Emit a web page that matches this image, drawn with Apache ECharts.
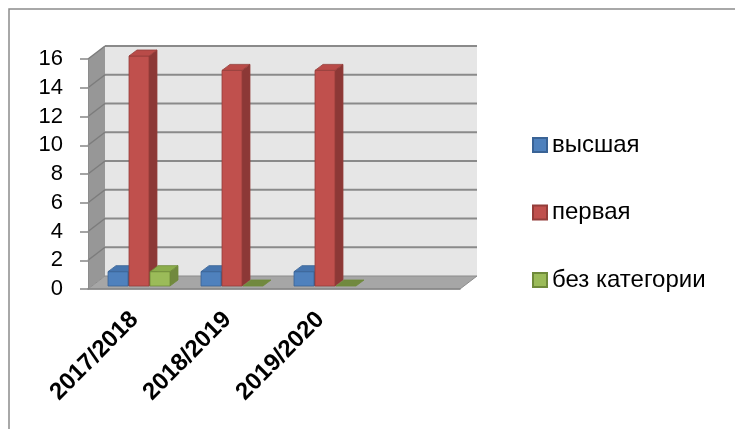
<!DOCTYPE html>
<html>
<head>
<meta charset="utf-8">
<script src="https://cdn.jsdelivr.net/npm/echarts@6/dist/echarts.min.js"></script>
<style>
html, body { margin: 0; padding: 0; background: #fff; }
#main { width: 735px; height: 429px; }
</style>
</head>
<body>
<div id="main"></div>
<script>
// data
var categories = ['2017/2018', '2018/2019', '2019/2020', ''];
var vysshaya = [1, 1, 1];
var pervaya = [16, 15, 15];
var bezKategorii = [1, 0, 0];
var yTicks = [0, 2, 4, 6, 8, 10, 12, 14, 16];
var seriesNames = ['высшая', 'первая', 'без категории'];

var FONT = 'Liberation Sans';
var WALL_DEPTH = [17, -13];   // left wall / floor depth
var BAR_SHIFT = [4.5, -3];    // bars stand in the middle of the depth
var BAR_DEPTH = [8, -6];

var palette = [
  { front: '#4f81bd', top: '#4675ae', side: '#385d8a', edge: '#3a6396' },
  { front: '#c0504d', top: '#b94b48', side: '#8c3836', edge: '#943d3a' },
  { front: '#9bbb59', top: '#8cad4c', side: '#71893f', edge: '#6f8a3a' }
];

function toData(arr) {
  return arr.map(function (v, i) { return [i, v]; });
}

// back wall, left wall, floor and their grid lines
function renderFrame(params, api) {
  var catW = api.size([1, 0])[0];
  var L = api.coord([0, 0])[0] - catW / 2;
  var R = api.coord([categories.length - 1, 0])[0] + catW / 2;
  var y0 = api.coord([0, yTicks[0]])[1];
  var yMax = api.coord([0, yTicks[yTicks.length - 1]])[1];
  var dx = WALL_DEPTH[0], dy = WALL_DEPTH[1];
  var ch = [];
  ch.push({ type: 'rect', shape: { x: L + dx, y: yMax + dy, width: R - L, height: y0 - yMax },
    style: { fill: '#e6e6e6' } });
  ch.push({ type: 'polygon', shape: { points: [[L, y0], [L, yMax], [L + dx, yMax + dy], [L + dx, y0 + dy]] },
    style: { fill: '#979797' } });
  ch.push({ type: 'polygon', shape: { points: [[L, y0], [R, y0], [R + dx, y0 + dy], [L + dx, y0 + dy]] },
    style: { fill: '#a6a6a6', stroke: '#8c8c8c', lineWidth: 1 } });
  yTicks.forEach(function (t, i) {
    if (i === 0) return;
    var y = api.coord([0, t])[1];
    ch.push({ type: 'line', shape: { x1: L + dx, y1: y + dy, x2: R + dx, y2: y + dy },
      style: { stroke: '#8a8a8a', lineWidth: 2 } });
    ch.push({ type: 'line', shape: { x1: L, y1: y, x2: L + dx, y2: y + dy },
      style: { stroke: '#7c7c7c', lineWidth: 1.5 } });
  });
  return { type: 'group', children: ch };
}

function makeBar(idx) {
  var c = palette[idx];
  return function (params, api) {
    var cat = api.value(0), v = api.value(1);
    var catW = api.size([1, 0])[0];
    var bw = catW * 0.215, gap = 1;
    var p0 = api.coord([cat, 0]);
    var p1 = api.coord([cat, v]);
    var x = p0[0] + BAR_SHIFT[0] - (3 * bw + 2 * gap) / 2 + idx * (bw + gap);
    var yb = p0[1] + BAR_SHIFT[1], yt = p1[1] + BAR_SHIFT[1];
    var dx = BAR_DEPTH[0], dy = BAR_DEPTH[1];
    var ch = [];
    if (v > 0) {
      ch.push({ type: 'polygon',
        shape: { points: [[x + bw, yb], [x + bw + dx, yb + dy], [x + bw + dx, yt + dy], [x + bw, yt]] },
        style: { fill: c.side, stroke: c.edge, lineWidth: 0.8 } });
      ch.push({ type: 'rect', shape: { x: x, y: yt, width: bw, height: yb - yt },
        style: { fill: c.front, stroke: c.edge, lineWidth: 0.8 } });
    }
    ch.push({ type: 'polygon',
      shape: { points: [[x, yt], [x + dx, yt + dy], [x + bw + dx, yt + dy], [x + bw, yt]] },
      style: { fill: v > 0 ? c.top : c.side, stroke: c.edge, lineWidth: 0.8 } });
    return { type: 'group', children: ch };
  };
}

var barValues = [vysshaya, pervaya, bezKategorii];
var series = [{
  name: 'frame',
  type: 'custom',
  silent: true,
  clip: false,
  z: 1,
  renderItem: renderFrame,
  data: [[0, 0]]
}];
barValues.forEach(function (vals, i) {
  series.push({
    name: seriesNames[i],
    type: 'custom',
    clip: false,
    z: 2,
    renderItem: makeBar(i),
    encode: { x: 0, y: 1 },
    itemStyle: { color: palette[i].front, borderColor: palette[i].edge, borderWidth: 1 },
    data: toData(vals)
  });
});

var chart = echarts.init(document.getElementById('main'));
chart.setOption({
  animation: false,
  graphic: [{
    type: 'polyline', silent: true,
    shape: { points: [[9, 440], [9, 9], [745, 9]] },
    style: { fill: 'none', stroke: '#8c8c8c', lineWidth: 1.5 }
  }],
  grid: { left: 88, right: 275, top: 59, bottom: 140 },
  legend: {
    data: seriesNames,
    orient: 'vertical',
    left: 532,
    top: 133,
    padding: 0,
    icon: 'rect',
    itemWidth: 14,
    itemHeight: 14,
    itemGap: 43.5,
    textStyle: { fontFamily: FONT, fontSize: 24, lineHeight: 24, color: '#000' }
  },
  xAxis: {
    type: 'category',
    data: categories,
    boundaryGap: true,
    z: 3,
    axisLine: { lineStyle: { color: '#868686', width: 1.5 } },
    axisTick: { interval: 1, length: 9, lineStyle: { color: '#868686', width: 1.5 } },
    axisLabel: {
      interval: 0, rotate: 45, margin: 27,
      fontFamily: FONT, fontSize: 24, fontWeight: 'bold', color: '#000'
    },
    splitLine: { show: false }
  },
  yAxis: {
    type: 'value',
    min: 0, max: 16, interval: 2,
    z: 3,
    axisLine: { show: true, lineStyle: { color: '#8c8c8c', width: 1 } },
    axisTick: { show: true, length: 8, lineStyle: { color: '#868686', width: 1.5 } },
    axisLabel: { margin: 25, fontFamily: FONT, fontSize: 22, color: '#000' },
    splitLine: { show: false }
  },
  series: series
});
</script>
</body>
</html>
